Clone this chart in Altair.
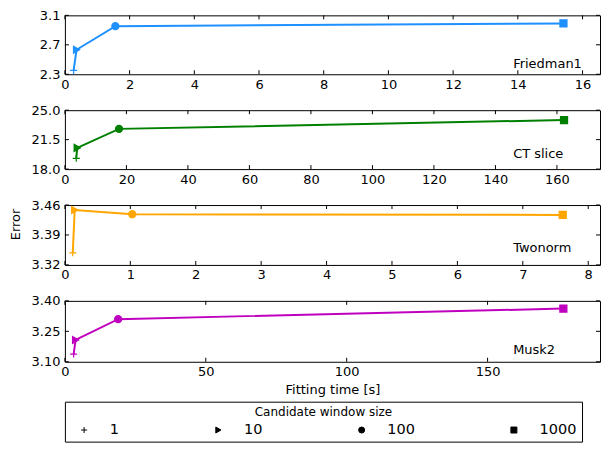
import altair as alt
import pandas as pd

# ---- data ----
datasets = ["Friedman1", "CT slice", "Twonorm", "Musk2"]
window_sizes = ["1", "10", "100", "1000"]
colors = ["#1e90ff", "#008000", "#ffa500", "#bf00bf"]

friedman_time = [0.27, 0.36, 1.56, 15.41]
friedman_error = [2.353, 2.633, 2.953, 2.99]
ct_time = [3.7, 4.0, 17.6, 162.3]
ct_error = [19.28, 20.52, 22.78, 23.83]
twonorm_time = [0.12, 0.15, 1.03, 7.61]
twonorm_error = [3.3484, 3.4485, 3.4385, 3.4369]
musk_time = [3.1, 3.8, 18.9, 176.9]
musk_error = [3.138, 3.2075, 3.310, 3.362]

times = [friedman_time, ct_time, twonorm_time, musk_time]
errors = [friedman_error, ct_error, twonorm_error, musk_error]

x_ticks = [
    [0, 2, 4, 6, 8, 10, 12, 14, 16],
    [0, 20, 40, 60, 80, 100, 120, 140, 160],
    [0, 1, 2, 3, 4, 5, 6, 7, 8],
    [0, 50, 100, 150],
]
x_max = [16.54, 174.0, 8.18, 189.9]
y_ticks = [
    [2.3, 2.7, 3.1],
    [18.0, 21.5, 25.0],
    [3.32, 3.39, 3.46],
    [3.10, 3.25, 3.40],
]
y_formats = [".1f", ".1f", ".2f", ".2f"]

# ---- layout ----
W = 536
H = [59, 59, 60, 61]
label_y = [49, 44, 43.5, 49]
FONT = "DejaVu Sans"

plus_path = "M-1,0H1M0,-1V1"
shape_scale = alt.Scale(domain=window_sizes,
                        range=[plus_path, "triangle-right", "circle", "square"])
color_scale = alt.Scale(domain=datasets, range=colors)
legend = alt.Legend(
    title="Candidate window size",
    orient="none", legendX=0, legendY=387,
    direction="horizontal", columns=4, columnPadding=84.5,
    padding=5, strokeColor="black", fillColor="white", cornerRadius=0,
    titleAnchor="middle", titleFont=FONT, titleFontSize=12, titleFontWeight="normal",
    titleColor="black", titlePadding=4,
    labelFont=FONT, labelFontSize=14.5, labelColor="black", labelOffset=18.5,
    symbolSize=36, symbolOffset=7, symbolStrokeWidth=1, symbolOpacity=1,
    symbolFillColor="black", symbolStrokeColor="black",
)


def panel(i):
    c = colors[i]
    df = pd.DataFrame({"time": times[i], "error": errors[i],
                       "window": window_sizes, "order": [0, 1, 2, 3],
                       "dataset": [datasets[i]] * 4})
    xs = alt.Scale(domain=[0, x_max[i]], nice=False, zero=False)
    ys = alt.Scale(domain=[y_ticks[i][0], y_ticks[i][-1]], nice=False, zero=False)
    xaxis_kw = dict(values=x_ticks[i], format="d", ticks=False, labelPadding=4,
                    grid=False, domain=False, labelFlush=False)
    if i == 3:
        xaxis = alt.Axis(title="Fitting time [s]", titlePadding=5, **xaxis_kw)
    else:
        xaxis = alt.Axis(title=None, **xaxis_kw)
    yaxis = alt.Axis(values=y_ticks[i], format=y_formats[i], ticks=False,
                     labelPadding=5, grid=False, domain=False, labelFlush=False,
                     title="Error", titleOpacity=1 if i == 2 else 0,
                     minExtent=35, maxExtent=35, titlePadding=7.8, titleY=19)
    X = alt.X("time:Q", scale=xs, axis=xaxis)
    Y = alt.Y("error:Q", scale=ys, axis=yaxis)

    line = alt.Chart(df).mark_line(color=c, strokeWidth=2).encode(
        x=X, y=Y, order="order:Q")
    pts = alt.Chart(df).mark_point(filled=True, strokeWidth=1.2,
                                   size=50, opacity=1).encode(
        x=X, y=Y,
        fill=alt.Fill("dataset:N", scale=color_scale, legend=None),
        stroke=alt.Stroke("dataset:N", scale=color_scale, legend=None),
        shape=alt.Shape("window:N", scale=shape_scale, legend=legend))
    name = alt.Chart(pd.DataFrame({"name": [datasets[i]]})).mark_text(
        align="left", baseline="middle", font=FONT, fontSize=13, color="black"
    ).encode(text="name:N", x=alt.value(449), y=alt.value(label_y[i]))

    xt = pd.DataFrame({"time": x_ticks[i]})
    yt = pd.DataFrame({"error": y_ticks[i]})
    tb = alt.Chart(xt).mark_rule(color="black", strokeWidth=1).encode(
        x=X, y=alt.value(H[i]), y2=alt.value(H[i] - 4))
    tt = alt.Chart(xt).mark_rule(color="black", strokeWidth=1).encode(
        x=X, y=alt.value(0), y2=alt.value(4))
    tl = alt.Chart(yt).mark_rule(color="black", strokeWidth=1).encode(
        y=Y, x=alt.value(0), x2=alt.value(4))
    tr = alt.Chart(yt).mark_rule(color="black", strokeWidth=1).encode(
        y=Y, x=alt.value(W - 4), x2=alt.value(W))
    return alt.layer(tb, tt, tl, tr, line, pts, name).properties(width=W, height=H[i])


chart = alt.vconcat(*[panel(i) for i in range(4)], spacing=11).properties(
    padding=0
).configure_view(stroke="black", strokeWidth=1).configure_axis(
    labelFont=FONT, labelFontSize=13, labelColor="black",
    titleFont=FONT, titleFontSize=13, titleFontWeight="normal", titleColor="black",
)

chart.save("out.html", embed_options={"renderer": "svg", "actions": False})
